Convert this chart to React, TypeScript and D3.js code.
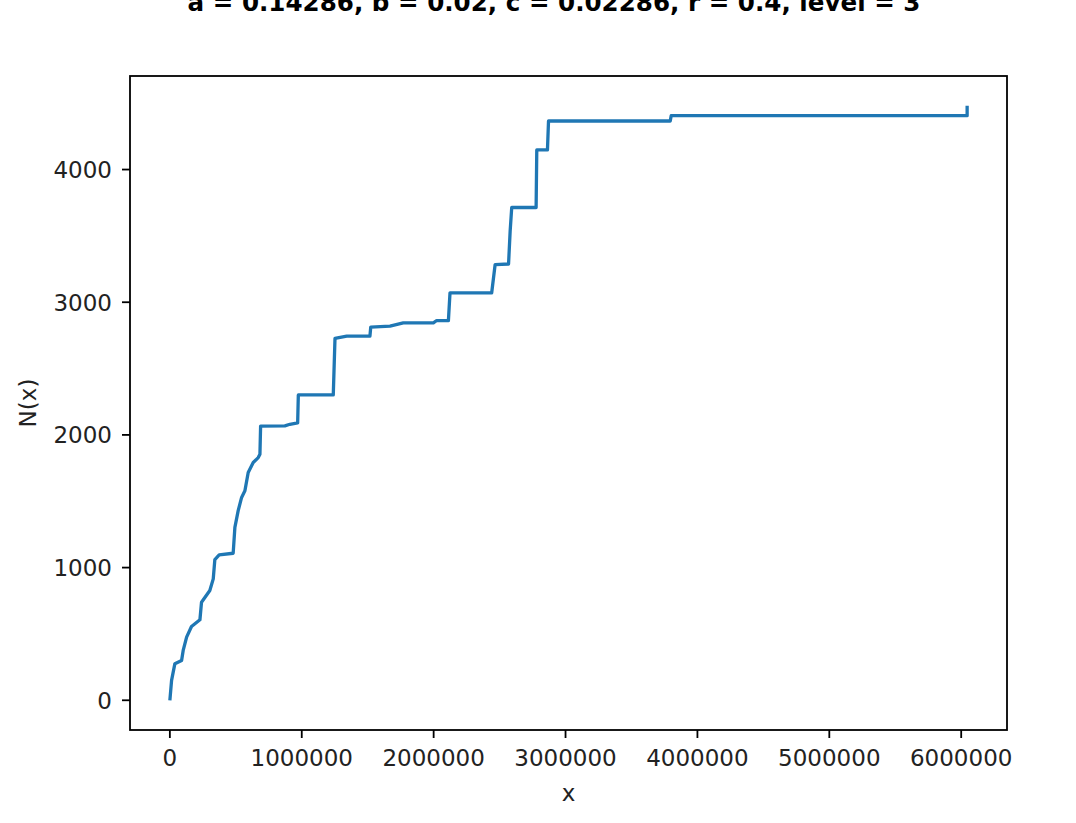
import React, { useEffect, useRef } from "react";
import * as d3 from "d3";

const TITLE = "a = 0.14286, b = 0.02, c = 0.02286, r = 0.4, level = 3";
const X_LABEL = "x";
const Y_LABEL = "N(x)";

// vertices of the N(x) curve
const curveX = [
  0, 13000, 38000, 89000, 101000, 127000, 164000, 228000, 240000, 303000, 329000, 341000,
  374000, 480000, 493000, 518000, 544000, 569000, 594000, 632000, 670000, 683000, 688000,
  872000, 910000, 969000, 974000, 1239000, 1252000, 1341000, 1517000, 1523000, 1669000,
  1770000, 1998000, 2023000, 2112000, 2124000, 2440000, 2466000, 2568000, 2580000, 2592000,
  2777000, 2782000, 2863000, 2871000, 3794000, 3801000, 6045000, 6045000,
];
const curveN = [
  0, 150, 276, 300, 376, 476, 556, 607, 739, 827, 915, 1060,
  1095, 1108, 1303, 1429, 1529, 1579, 1717, 1792, 1829, 1855, 2066,
  2068, 2080, 2090, 2301, 2301, 2727, 2744, 2744, 2812, 2820,
  2844, 2844, 2862, 2862, 3070, 3070, 3283, 3288, 3534, 3714,
  3714, 4148, 4148, 4366, 4366, 4406, 4406, 4481,
];

const xTicks = [0, 1000000, 2000000, 3000000, 4000000, 5000000, 6000000];
const yTicks = [0, 1000, 2000, 3000, 4000];

export default function App() {
  const ref = useRef<SVGSVGElement>(null);

  useEffect(() => {
    const svg = d3.select(ref.current);
    svg.selectAll("*").remove();
    const W = 1076, H = 823;
    const left = 130, right = 1007, top = 76, bottom = 730;
    const font = "DejaVu Sans, sans-serif";

    const xMax = d3.max(curveX)!;
    const yMax = d3.max(curveN)!;
    const xPad = xMax * 0.05, yPad = yMax * 0.05;
    const x = d3.scaleLinear().domain([-xPad, xMax + xPad]).range([left, right]);
    const y = d3.scaleLinear().domain([-yPad, yMax + yPad]).range([bottom, top]);

    svg.attr("width", W).attr("height", H);
    svg.append("rect").attr("width", W).attr("height", H).attr("fill", "white");

    const data = curveX.map((v, i) => [v, curveN[i]] as [number, number]);
    const line = d3.line<[number, number]>()
      .x((d) => x(d[0]))
      .y((d) => y(d[1]))
      .curve(d3.curveLinear);
    svg.append("path")
      .datum(data)
      .attr("d", line)
      .attr("fill", "none")
      .attr("stroke", "#1f77b4")
      .attr("stroke-width", 3.3)
      .attr("stroke-linejoin", "round")
      .attr("stroke-linecap", "butt");

    // frame
    svg.append("rect")
      .attr("x", left).attr("y", top)
      .attr("width", right - left).attr("height", bottom - top)
      .attr("fill", "none").attr("stroke", "black").attr("stroke-width", 1.8);

    // x ticks
    const gx = svg.append("g");
    xTicks.forEach((t) => {
      gx.append("line").attr("x1", x(t)).attr("x2", x(t))
        .attr("y1", bottom).attr("y2", bottom + 8)
        .attr("stroke", "black").attr("stroke-width", 1.8);
      gx.append("text").attr("x", x(t)).attr("y", bottom + 36)
        .attr("text-anchor", "middle").attr("font-family", font)
        .attr("font-size", 23).attr("fill", "#222").text(String(t));
    });
    // y ticks
    const gy = svg.append("g");
    yTicks.forEach((t) => {
      gy.append("line").attr("x1", left - 8).attr("x2", left)
        .attr("y1", y(t)).attr("y2", y(t))
        .attr("stroke", "black").attr("stroke-width", 1.8);
      gy.append("text").attr("x", left - 18).attr("y", y(t))
        .attr("dy", "0.36em")
        .attr("text-anchor", "end").attr("font-family", font)
        .attr("font-size", 23).attr("fill", "#222").text(String(t));
    });

    svg.append("text").attr("x", (left + right) / 2).attr("y", 801)
      .attr("text-anchor", "middle").attr("font-family", font)
      .attr("font-size", 23).attr("fill", "#222").text(X_LABEL);
    svg.append("text")
      .attr("transform", `translate(36,${(top + bottom) / 2}) rotate(-90)`)
      .attr("text-anchor", "middle").attr("font-family", font)
      .attr("font-size", 23).attr("fill", "#222").text(Y_LABEL);

    svg.append("text").attr("x", 554).attr("y", 11)
      .attr("text-anchor", "middle").attr("font-family", font)
      .attr("font-weight", "bold")
      .attr("font-size", 24.6).attr("fill", "black").text(TITLE);
  }, []);

  return (
    <svg ref={ref} style={{ position: "absolute", left: 0, top: 0, display: "block" }} />
  );
}
